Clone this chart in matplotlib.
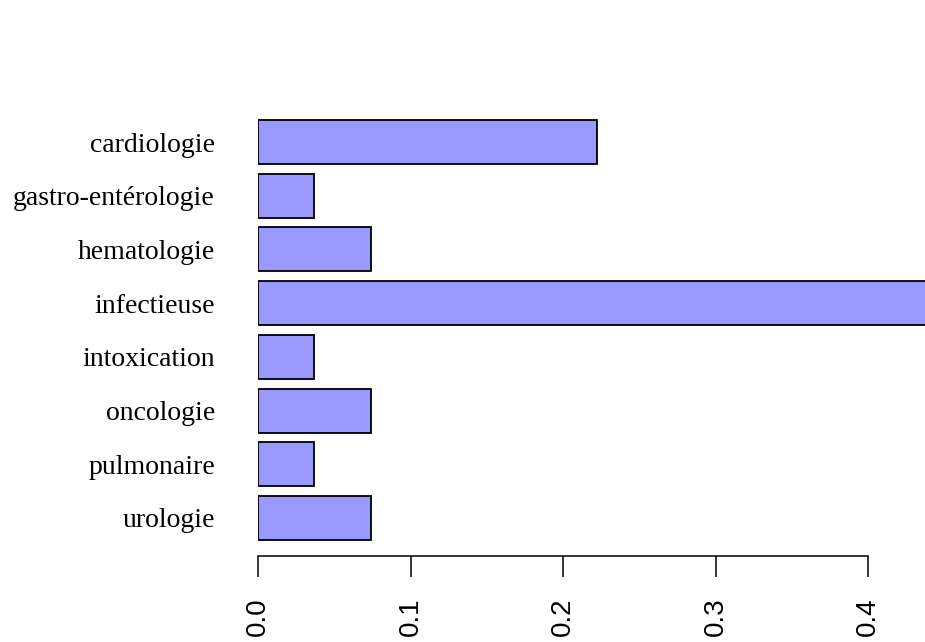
import matplotlib
matplotlib.use("Agg")
import matplotlib.pyplot as plt

# share of cases per speciality
specialites = ["cardiologie", "gastro-entérologie", "hematologie", "infectieuse",
               "intoxication", "oncologie", "pulmonaire", "urologie"]
proportions = [6/27, 1/27, 2/27, 12/27, 1/27, 2/27, 1/27, 2/27]
xticks = [0.0, 0.1, 0.2, 0.3, 0.4]
xticklabels = ["0.0", "0.1", "0.2", "0.3", "0.4"]

fig = plt.figure(figsize=(9.25, 6.42), dpi=100)
ax = fig.add_axes([258/925, 1 - 556/642, 1 - 258/925, 456/642])

ypos = list(range(len(specialites) - 1, -1, -1))
ax.barh(ypos, proportions, height=0.82, color="#9999ff",
        edgecolor="black", linewidth=1.3)

ax.set_xlim(0, (925 - 258) / 1525)
ax.set_ylim(-38/53.71, 7 + 42/53.71)

ax.set_yticks(ypos)
ax.set_yticklabels(specialites, family="Liberation Serif", fontsize=20)
ax.tick_params(axis="y", length=0, pad=31)

ax.set_xticks(xticks)
ax.set_xticklabels(xticklabels, rotation=90, family="Liberation Sans", fontsize=20)
ax.tick_params(axis="x", length=15, width=1.1, pad=15)

for s in ["top", "right", "left"]:
    ax.spines[s].set_visible(False)
ax.spines["bottom"].set_bounds(0, 0.4)
ax.spines["bottom"].set_linewidth(1.1)

fig.savefig("out.png", dpi=100)
